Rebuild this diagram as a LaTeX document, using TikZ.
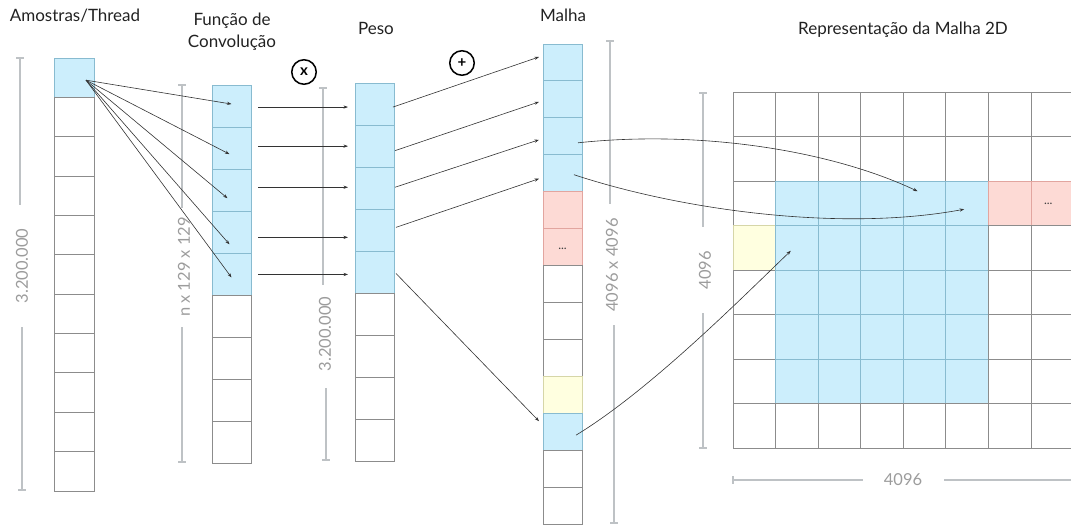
\documentclass[tikz,border=0pt]{standalone}
\usepackage{fontspec}
\setmainfont{Lato}
\usetikzlibrary{arrows.meta,calc}
\definecolor{cellgray}{HTML}{8C8C8C}
\definecolor{bluef}{HTML}{CCEEFC}
\definecolor{blued}{HTML}{88BBD0}
\definecolor{redf}{HTML}{FDDAD5}
\definecolor{redd}{HTML}{E2A59F}
\definecolor{yelf}{HTML}{FFFFE0}
\definecolor{yeld}{HTML}{D6D6A8}
\definecolor{barc}{HTML}{BEC2C5}
\definecolor{labc}{HTML}{9C9C9C}
\definecolor{arrc}{HTML}{333333}
\definecolor{titc}{HTML}{222222}
\begin{document}
\begin{tikzpicture}[x=1pt,y=-1pt,
  cellbase/.style={rectangle, inner sep=0pt, outer sep=0pt, anchor=north west, line width=0.9pt},
  acell/.style={cellbase, minimum width=40pt, minimum height=39.36pt},
  fcell/.style={cellbase, minimum width=39pt, minimum height=42.1pt},
  mcell/.style={cellbase, minimum width=39pt, minimum height=36.92pt},
  gcell/.style={cellbase, minimum width=42.57pt, minimum height=44.5pt},
  titletext/.style={font=\fontsize{17}{22}\selectfont, text=titc, align=center},
  dimlab/.style={font=\fontsize{16.5}{19}\selectfont, text=labc, rotate=90, inner sep=0pt},
  hdimlab/.style={font=\fontsize{16.5}{19}\selectfont, text=labc, inner sep=0pt},
  dimbar/.style={draw=barc, line width=2.6pt},
  barcap/.style={draw=barc, line width=1.6pt},
  arr/.style={draw=arrc, line width=0.6pt, -{Stealth[length=4.5pt,width=3.2pt]}},
  opnode/.style={circle, draw=black, line width=1.5pt, minimum size=24.5pt, inner sep=0pt, font=\bfseries\fontsize{15}{15}\selectfont},
  ellip/.style={font=\fontsize{12}{12}\selectfont, text=black!75, inner sep=0pt}
]
\useasboundingbox (0,0) rectangle (1071,527);

% titles
\node[titletext, anchor=base] (t1) at (75,22) {Amostras/Thread};
\node[titletext] (t2) at (232,31.5) {Função de\\Convolução};
\node[titletext, anchor=base] (t3) at (376,35) {Peso};
\node[titletext, anchor=base] (t4) at (563,22) {Malha};
\node[titletext, anchor=base] (t5) at (903,35) {Representação da Malha 2D};

% operators
\node[opnode] (mul) at (304,72) {x};
\node[opnode] (add) at (462,63) {+};

% Amostras column
\foreach \i in {1,...,11}{
  \ifnum\i=1 \def\fc{bluef}\def\dc{blued}\else\def\fc{white}\def\dc{cellgray}\fi
  \node[acell, fill=\fc, draw=\dc] (a\i) at (54,{58+39.36*(\i-1)}) {};
}
% Funcao column
\foreach \i in {1,...,9}{
  \ifnum\i<6 \def\fc{bluef}\def\dc{blued}\else\def\fc{white}\def\dc{cellgray}\fi
  \node[fcell, fill=\fc, draw=\dc] (f\i) at (212,{85+42.1*(\i-1)}) {};
}
% Peso column
\foreach \i in {1,...,9}{
  \ifnum\i<6 \def\fc{bluef}\def\dc{blued}\else\def\fc{white}\def\dc{cellgray}\fi
  \node[fcell, fill=\fc, draw=\dc] (p\i) at (355,{83+42.1*(\i-1)}) {};
}
% Malha column
\foreach \i in {1,...,13}{
  \def\fc{white}\def\dc{cellgray}
  \ifnum\i<5 \def\fc{bluef}\def\dc{blued}\fi
  \ifnum\i=5 \def\fc{redf}\def\dc{redd}\fi
  \ifnum\i=6 \def\fc{redf}\def\dc{redd}\fi
  \ifnum\i=10 \def\fc{yelf}\def\dc{yeld}\fi
  \ifnum\i=11 \def\fc{bluef}\def\dc{blued}\fi
  \node[mcell, fill=\fc, draw=\dc] (m\i) at (543,{44+36.92*(\i-1)}) {};
}
\node[ellip] (md) at ($(m6.center)+(0,2)$) {...};

% 2D grid
\begin{scope}
\clip (0,0) rectangle (1071,527);
\foreach \r in {0,...,7}{
  \foreach \c in {0,...,7}{
    \def\fc{white}\def\dc{cellgray}
    \ifnum\r>1 \ifnum\r<7 \ifnum\c>0 \ifnum\c<6 \def\fc{bluef}\def\dc{blued}\fi\fi\fi\fi
    \ifnum\r=2 \ifnum\c>5 \def\fc{redf}\def\dc{redd}\fi\fi
    \ifnum\r=3 \ifnum\c=0 \def\fc{yelf}\def\dc{yeld}\fi\fi
    \node[gcell, fill=\fc, draw=\dc] (g-\r-\c) at ({733+42.57*\c},{92+44.5*\r}) {};
  }
}
\end{scope}
\node[ellip] (gd) at ($(g-2-7.center)+(-4,1)$) {...};

% scale bars
\draw[dimbar] (20,58) -- (20,205); \draw[barcap] (16,58) -- (24,58);
\node[dimlab] (d1) at (22,266) {3.200.000};
\draw[dimbar] (22,327) -- (22,490); \draw[barcap] (18,490) -- (26,490);

\draw[dimbar] (182,85) -- (182,208); \draw[barcap] (178,85) -- (186,85);
\node[dimlab] (d2) at (184,267) {n x 129 x 129};
\draw[dimbar] (182,327) -- (182,462); \draw[barcap] (178,462) -- (186,462);

\draw[dimbar] (323,88) -- (323,285); \draw[barcap] (319,88) -- (327,88);
\node[dimlab] (d3) at (325,334) {3.200.000};
\draw[dimbar] (326,388) -- (326,460); \draw[barcap] (322,460) -- (330,460);

\draw[dimbar] (610,41) -- (610,204); \draw[barcap] (606,41) -- (614,41);
\node[dimlab] (d4) at (612,265) {4096 x 4096};
\draw[dimbar] (614,325) -- (614,523); \draw[barcap] (610,523) -- (618,523);

\draw[dimbar] (703,93) -- (703,227); \draw[barcap] (699,93) -- (707,93);
\node[dimlab] (d5) at (705,270) {4096};
\draw[dimbar] (703,313) -- (703,448); \draw[barcap] (699,448) -- (707,448);

\draw[dimbar] (733,480) -- (863,480); \draw[barcap] (733,476) -- (733,484);
\node[hdimlab] (d6) at (903,480) {4096};
\draw[dimbar] (944,480) -- (1071,480);

% arrows Amostras -> Funcao
\coordinate (src) at ($(a1.center)+(12,2.5)$);
\draw[arr] (src) -- ($(f1.center)+(0,-2)$);
\draw[arr] (src) -- ($(f2.center)+(-2,6)$);
\draw[arr] (src) -- ($(f3.center)+(-4,8)$);
\draw[arr] (src) -- ($(f4.center)+(-2,12)$);
\draw[arr] (src) -- ($(f5.center)+(0,3)$);

% arrows Funcao -> Peso
\foreach \i/\dy in {1/1,2/-2,3/-3,4/5,5/0}{
  \coordinate (h\i) at ($(f\i.east)+(7,\dy)$);
  \draw[arr, shorten >=7pt] (h\i) -- (h\i -| p\i.west);
}

% arrows Peso -> Malha
\draw[arr] ($(p1.east)+(-1,3)$) -- ($(m1.west)+(-4,-5.5)$);
\draw[arr] ($(p2.east)+(1,4.5)$) -- ($(m2.west)+(-4,2.5)$);
\draw[arr] ($(p3.east)+(1,-1)$) -- ($(m3.west)+(-4,3.5)$);
\draw[arr] ($(p4.east)+(2,-3)$) -- ($(m4.west)+(-4,5.5)$);
\draw[arr] ($(p5.east)+(2,1)$) -- ($(m11.west)+(-4,-10.5)$);

% curved arrows Malha -> grid
\draw[arr] ($(m3.center)+(15.5,6.5)$) .. controls +(122,-13) and +(-87,-41) .. ($(g-2-4.center)+(-7,-12)$);
\draw[arr] ($(m4.center)+(11.5,1.5)$) .. controls +(106,35) and +(-124,23) .. ($(g-2-5.center)+(-3,6)$);
\draw[arr] ($(m11.center)+(13.5,3.5)$) .. controls +(74,-45) and +(-51,49) .. ($(g-3-1.center)+(-6,3)$);
\end{tikzpicture}
\end{document}
